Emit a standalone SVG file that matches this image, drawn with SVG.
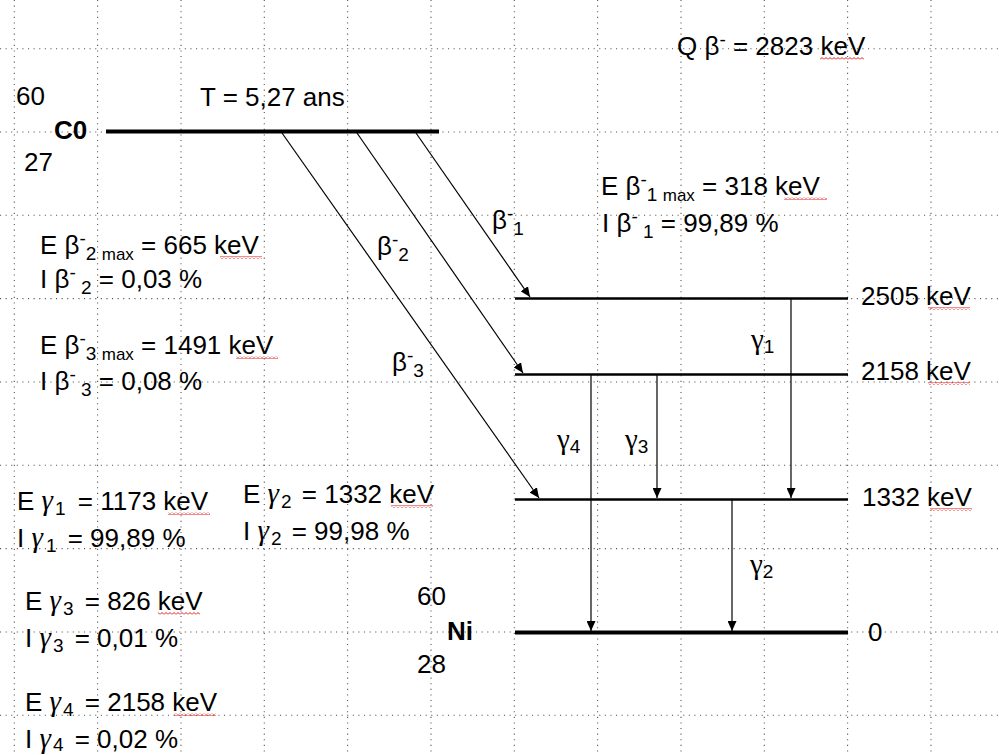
<svg xmlns="http://www.w3.org/2000/svg" width="999" height="755" viewBox="0 0 999 755">
<style>
text{font-family:"Liberation Sans",Arial,sans-serif;font-size:26px;fill:#000}
.b{font-weight:bold}
.sup,.sub{font-size:19px}
.sm{font-size:17px}
.g{font-family:"Liberation Serif","Times New Roman",serif;font-size:29px}
.gi{font-family:"Liberation Serif","Times New Roman",serif;font-style:italic;font-size:29px}
.grid line{stroke:#555;stroke-width:1.1;stroke-dasharray:1.1 4.5}
.lvl{stroke:#000;stroke-width:2.5}
.lvlk{stroke:#000;stroke-width:4}
.arr{stroke:#000;stroke-width:1.2;fill:none;marker-end:url(#ah)}
.wv{fill:url(#wavy)}
</style>
<defs>
<marker id="ah" markerUnits="userSpaceOnUse" markerWidth="10" markerHeight="9" viewBox="0 0 10 9" refX="10" refY="4.5" orient="auto">
<path d="M0,0 L10,4.5 L0,9 z" fill="#000"/>
</marker>
<pattern id="wavy" patternUnits="userSpaceOnUse" width="4" height="3">
<polyline points="0,2.5 2,0.5 4,2.5" fill="none" stroke="#d00" stroke-width="0.9"/>
</pattern>
</defs>
<rect width="999" height="755" fill="#fff"/>
<g class="grid">
<line x1="0" y1="48.7" x2="999" y2="48.7"/>
<line x1="0" y1="132" x2="999" y2="132"/>
<line x1="0" y1="215.3" x2="999" y2="215.3"/>
<line x1="0" y1="298.6" x2="999" y2="298.6"/>
<line x1="0" y1="382" x2="999" y2="382"/>
<line x1="0" y1="465.3" x2="999" y2="465.3"/>
<line x1="0" y1="548.6" x2="999" y2="548.6"/>
<line x1="0" y1="632" x2="999" y2="632"/>
<line x1="0" y1="715.3" x2="999" y2="715.3"/>
<line x1="14.3" y1="0" x2="14.3" y2="755"/>
<line x1="97.6" y1="0" x2="97.6" y2="755"/>
<line x1="181" y1="0" x2="181" y2="755"/>
<line x1="264.3" y1="0" x2="264.3" y2="755"/>
<line x1="347.6" y1="0" x2="347.6" y2="755"/>
<line x1="431" y1="0" x2="431" y2="755"/>
<line x1="514.3" y1="0" x2="514.3" y2="755"/>
<line x1="597.6" y1="0" x2="597.6" y2="755"/>
<line x1="681" y1="0" x2="681" y2="755"/>
<line x1="764.3" y1="0" x2="764.3" y2="755"/>
<line x1="847.6" y1="0" x2="847.6" y2="755"/>
<line x1="931" y1="0" x2="931" y2="755"/>
</g>
<g id="co60">
<line class="lvlk" x1="106" y1="131.5" x2="439" y2="131.5"/>
<text x="16" y="105">60</text>
<text class="b" x="54" y="139" font-size="27">C0</text>
<text x="24" y="171">27</text>
<text x="200" y="106" font-size="26.5">T = 5,27 ans</text>
</g>
<g id="level2505">
<line class="lvl" x1="515" y1="298.5" x2="848" y2="298.5"/>
<text x="861" y="305">2505 keV</text>
</g>
<g id="level2158">
<line class="lvl" x1="515" y1="374.5" x2="848" y2="374.5"/>
<text x="861" y="380">2158 keV</text>
</g>
<g id="level1332">
<line class="lvl" x1="515" y1="499.5" x2="848" y2="499.5"/>
<text x="862" y="506">1332 keV</text>
</g>
<g id="ni60">
<line class="lvlk" x1="515" y1="632.5" x2="848" y2="632.5"/>
<text x="868" y="641">0</text>
<text x="417" y="605">60</text>
<text class="b" x="447" y="640" font-size="27">Ni</text>
<text x="417" y="673">28</text>
</g>
<g id="connectors">
<line class="arr" x1="416" y1="133" x2="530" y2="297"/>
<line class="arr" x1="357" y1="133" x2="523" y2="373"/>
<line class="arr" x1="282" y1="133" x2="539" y2="498"/>
<line class="arr" x1="791" y1="299" x2="791" y2="498"/>
<line class="arr" x1="657" y1="375" x2="657" y2="498"/>
<line class="arr" x1="591" y1="375" x2="591" y2="631"/>
<line class="arr" x1="732" y1="500" x2="732" y2="631"/>
</g>
<g id="connector-labels">
<text x="492" y="229">β<tspan class="sup" dy="-9">-</tspan><tspan class="sub" dy="15">1</tspan></text>
<text x="377" y="255">β<tspan class="sup" dy="-9">-</tspan><tspan class="sub" dy="15">2</tspan></text>
<text x="392" y="371">β<tspan class="sup" dy="-9">-</tspan><tspan class="sub" dy="15">3</tspan></text>
<text class="g" x="751" y="349">γ<tspan class="sub" font-family="Liberation Sans, Arial, sans-serif" dy="4">1</tspan></text>
<text class="g" x="557" y="449">γ<tspan class="sub" font-family="Liberation Sans, Arial, sans-serif" dy="4">4</tspan></text>
<text class="g" x="625" y="449">γ<tspan class="sub" font-family="Liberation Sans, Arial, sans-serif" dy="4">3</tspan></text>
<text class="g" x="750" y="574">γ<tspan class="sub" font-family="Liberation Sans, Arial, sans-serif" dy="4">2</tspan></text>
</g>
<g id="q-value">
<text x="677" y="55">Q β<tspan class="sup" dy="-9">-</tspan><tspan dy="9"> = 2823 keV</tspan></text>
</g>
<g id="beta1-info">
<text x="601" y="195">E β<tspan class="sup" dy="-9">-</tspan><tspan class="sub" dy="15">1 </tspan><tspan class="sm">max</tspan><tspan dy="-6"> = 318 keV</tspan></text>
<text x="602" y="232">I β<tspan class="sup" dy="-9">-</tspan><tspan class="sub" dy="15"> 1</tspan><tspan dy="-6"> = 99,89 %</tspan></text>
</g>
<g id="beta2-info">
<text x="40" y="254">E β<tspan class="sup" dy="-9">-</tspan><tspan class="sub" dy="15">2 </tspan><tspan class="sm">max</tspan><tspan dy="-6"> = 665 keV</tspan></text>
<text x="40" y="288">I β<tspan class="sup" dy="-9">-</tspan><tspan class="sub" dy="15"> 2</tspan><tspan dy="-6"> = 0,03 %</tspan></text>
</g>
<g id="beta3-info">
<text x="40" y="354">E β<tspan class="sup" dy="-9">-</tspan><tspan class="sub" dy="15">3 </tspan><tspan class="sm">max</tspan><tspan dy="-6"> = 1491 keV</tspan></text>
<text x="40" y="390">I β<tspan class="sup" dy="-9">-</tspan><tspan class="sub" dy="15"> 3</tspan><tspan dy="-6"> = 0,08 %</tspan></text>
</g>
<g id="gamma1-info">
<text x="17" y="510">E <tspan class="gi">γ</tspan><tspan class="sub" dx="2" dy="5">1</tspan><tspan dx="5" dy="-5"> = 1173 keV</tspan></text>
<text x="17" y="547">I <tspan class="gi">γ</tspan><tspan class="sub" dx="3" dy="5">1</tspan><tspan dx="4" dy="-5"> = 99,89 %</tspan></text>
</g>
<g id="gamma2-info">
<text x="243" y="503">E <tspan class="gi">γ</tspan><tspan class="sub" dx="2" dy="5">2</tspan><tspan dx="3" dy="-5"> = 1332 keV</tspan></text>
<text x="243" y="540">I <tspan class="gi">γ</tspan><tspan class="sub" dx="2" dy="5">2</tspan><tspan dx="3" dy="-5"> = 99,98 %</tspan></text>
</g>
<g id="gamma3-info">
<text x="25" y="610">E <tspan class="gi">γ</tspan><tspan class="sub" dx="2" dy="5">3</tspan><tspan dx="4" dy="-5"> = 826 keV</tspan></text>
<text x="25" y="647">I <tspan class="gi">γ</tspan><tspan class="sub" dx="2" dy="5">3</tspan><tspan dx="4" dy="-5"> = 0,01 %</tspan></text>
</g>
<g id="gamma4-info">
<text x="25" y="711">E <tspan class="gi">γ</tspan><tspan class="sub" dx="2" dy="5">4</tspan><tspan dx="4" dy="-5"> = 2158 keV</tspan></text>
<text x="25" y="748">I <tspan class="gi">γ</tspan><tspan class="sub" dx="2" dy="3">4</tspan><tspan dx="4" dy="-3"> = 0,02 %</tspan></text>
</g>
<g id="spell-underlines">
<rect class="wv" x="820" y="57" width="44" height="3"/>
<rect class="wv" x="784" y="197" width="43" height="3"/>
<rect class="wv" x="220" y="256" width="42" height="3"/>
<rect class="wv" x="236" y="356" width="42" height="3"/>
<rect class="wv" x="928" y="307" width="42" height="3"/>
<rect class="wv" x="928" y="382" width="42" height="3"/>
<rect class="wv" x="930" y="508" width="42" height="3"/>
<rect class="wv" x="168" y="512" width="42" height="3"/>
<rect class="wv" x="391" y="505" width="42" height="3"/>
<rect class="wv" x="158" y="612" width="42" height="3"/>
<rect class="wv" x="174" y="713" width="42" height="3"/>
</g>
</svg>
